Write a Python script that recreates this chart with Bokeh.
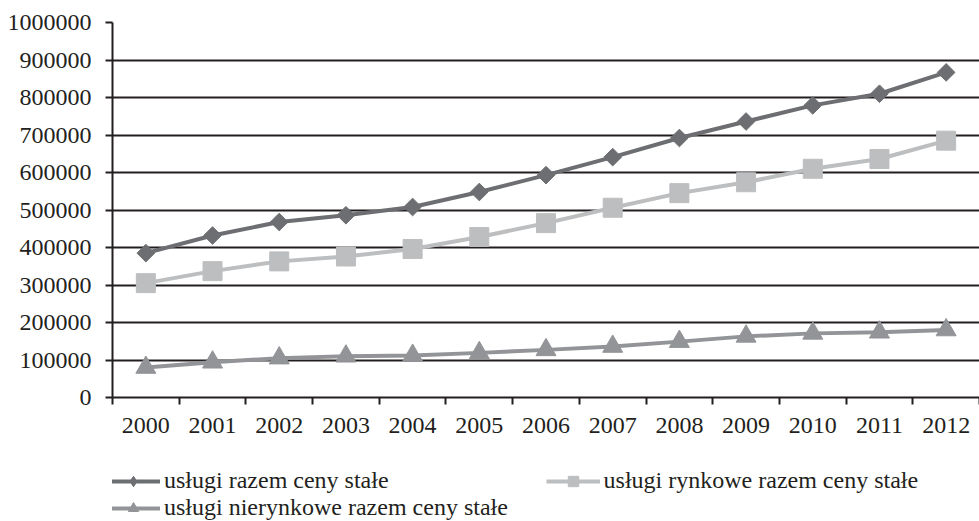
import math
from bokeh.plotting import figure
from bokeh.layouts import column
from bokeh.models import (Range1d, FixedTicker, NumeralTickFormatter, Legend,
                          LegendItem, ColumnDataSource)
from bokeh.embed import file_html
from bokeh.resources import INLINE

years = ["2000", "2001", "2002", "2003", "2004", "2005", "2006",
         "2007", "2008", "2009", "2010", "2011", "2012"]
uslugi_razem = [385000, 432000, 468000, 486000, 508000, 548000, 593000,
                641000, 692000, 736000, 779000, 810000, 867000]
uslugi_rynkowe = [305000, 337000, 363000, 376000, 396000, 428000, 465000,
                  506000, 545000, 574000, 610000, 636000, 685000]
uslugi_nierynkowe = [80000, 94000, 105000, 110000, 112000, 119000, 127000,
                     136000, 149000, 163000, 171000, 174000, 180000]
series_names = ["usługi razem ceny stałe",
                "usługi rynkowe razem ceny stałe",
                "usługi nierynkowe razem ceny stałe"]
y_ticks = [0, 100000, 200000, 300000, 400000, 500000, 600000, 700000,
           800000, 900000, 1000000]

FONT = "Liberation Serif"
INK = "#231f20"
C1, C2, C3 = "#6d6e71", "#bcbec0", "#929497"

x = list(range(len(years)))
src = ColumnDataSource(dict(x=x, a=uslugi_razem, b=uslugi_rynkowe,
                            c=uslugi_nierynkowe))

# ---------------- main chart ----------------
p = figure(width=979, height=458, output_backend="svg", toolbar_location=None,
           x_range=Range1d(-0.5, len(years) - 0.5), y_range=Range1d(0, 1000000),
           min_border_left=112, min_border_top=22, min_border_right=0,
           min_border_bottom=61)
p.outline_line_color = None

p.xaxis.ticker = FixedTicker(ticks=x, minor_ticks=[i - 0.5 for i in range(len(years) + 1)])
p.xaxis.major_label_overrides = {i: y for i, y in enumerate(years)}
p.xaxis.major_tick_out = 0
p.xaxis.major_tick_in = 0
p.xaxis.minor_tick_out = 7
p.xaxis.minor_tick_in = 0
p.xaxis.minor_tick_line_color = INK
p.xaxis.minor_tick_line_width = 2
p.xaxis.axis_line_color = INK
p.xaxis.axis_line_width = 2
p.xaxis.major_label_standoff = 13

p.yaxis.ticker = FixedTicker(ticks=y_ticks)
p.yaxis.formatter = NumeralTickFormatter(format="0")
p.yaxis.major_tick_out = 7
p.yaxis.major_tick_in = 0
p.yaxis.major_tick_line_color = INK
p.yaxis.major_tick_line_width = 2
p.yaxis.minor_tick_line_color = None
p.yaxis.axis_line_color = INK
p.yaxis.axis_line_width = 2
p.yaxis.major_label_standoff = 14

for ax in (p.xaxis, p.yaxis):
    ax.major_label_text_font = FONT
    ax.major_label_text_font_size = "24px"
    ax.major_label_text_color = INK

p.xgrid.visible = False
p.ygrid.ticker = FixedTicker(ticks=y_ticks)
p.ygrid.grid_line_color = INK
p.ygrid.grid_line_width = 1.8

p.line("x", "a", source=src, line_color=C1, line_width=4)
p.scatter("x", "a", source=src, marker="square", angle=math.pi / 4,
          size=12.5, fill_color=C1, line_color=C1)
p.line("x", "b", source=src, line_color=C2, line_width=4)
p.scatter("x", "b", source=src, marker="square", size=19,
          fill_color=C2, line_color=C2)
p.line("x", "c", source=src, line_color=C3, line_width=4)
p.scatter("x", "c", source=src, marker="triangle", size=20,
          fill_color=C3, line_color=C3)

# ---------------- legend strip ----------------
q = figure(width=979, height=63, output_backend="svg", toolbar_location=None,
           x_range=Range1d(-0.5, len(years) - 0.5), y_range=Range1d(2e6, 3e6),
           x_axis_type=None, y_axis_type=None,
           min_border_left=112, min_border_right=0, min_border_top=0,
           min_border_bottom=0)
q.outline_line_color = None
q.xgrid.visible = False
q.ygrid.visible = False

k1 = q.line("x", "a", source=src, line_color=C1, line_width=4)
s1 = q.scatter("x", "a", source=src, marker="diamond", size=12,
               fill_color=C1, line_color=C1)
k2 = q.line("x", "b", source=src, line_color=C2, line_width=4)
s2 = q.scatter("x", "b", source=src, marker="square", size=12,
               fill_color=C2, line_color=C2)
k3 = q.line("x", "c", source=src, line_color=C3, line_width=4)
s3 = q.scatter("x", "c", source=src, marker="triangle", size=12,
               fill_color=C3, line_color=C3)

common = dict(orientation="horizontal",
              glyph_width=54, glyph_height=26, label_standoff=4,
              label_height=24, padding=0, margin=0,
              label_text_font=FONT, label_text_font_size="24px",
              label_text_color=INK, border_line_color=None,
              background_fill_alpha=0)
legend_a = Legend(items=[LegendItem(label=series_names[0], renderers=[k1, s1]),
                         LegendItem(label=series_names[1], renderers=[k2, s2])],
                  spacing=157, location=(-6, 27), **common)
legend_b = Legend(items=[LegendItem(label=series_names[2], renderers=[k3, s3])],
                  spacing=0, location=(-6, 0), **common)
q.add_layout(legend_a)
q.add_layout(legend_b)

layout = column(p, q, spacing=0)
open("out.html", "w").write(file_html(layout, INLINE))
